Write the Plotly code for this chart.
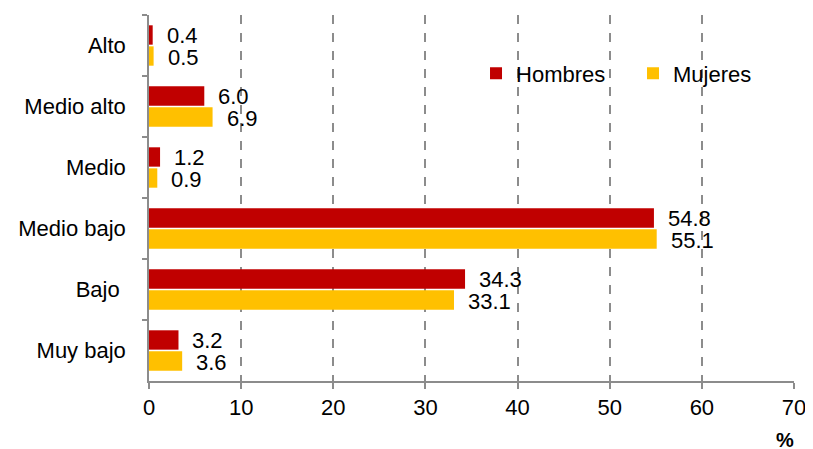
import plotly.graph_objects as go

# niveles socioeconomicos, de arriba hacia abajo
categorias = ['Alto', 'Medio alto', 'Medio', 'Medio bajo', 'Bajo ', 'Muy bajo']
hombres = [0.4, 6.0, 1.2, 54.8, 34.3, 3.2]
mujeres = [0.5, 6.9, 0.9, 55.1, 33.1, 3.6]
x_ticks = [0, 10, 20, 30, 40, 50, 60, 70]

ROJO = '#C00000'
AMARILLO = '#FFC000'
GRIS = '#8c8c8c'
FONT = 'Liberation Sans, Arial, sans-serif'

fig = go.Figure()
fig.add_trace(go.Bar(y=categorias, x=hombres, orientation='h', name='Hombres',
                     marker=dict(color=ROJO, line=dict(width=0))))
fig.add_trace(go.Bar(y=categorias, x=mujeres, orientation='h', name='Mujeres',
                     marker=dict(color=AMARILLO, line=dict(width=0))))

# etiquetas de valores a la derecha de cada barra
for cat, h, m in zip(categorias, hombres, mujeres):
    fig.add_annotation(x=h, y=cat, text=f'{h:.1f}', showarrow=False,
                       xanchor='left', xshift=12, yshift=10,
                       font=dict(size=22, color='black', family=FONT))
    fig.add_annotation(x=m, y=cat, text=f'{m:.1f}', showarrow=False,
                       xanchor='left', xshift=12, yshift=-12,
                       font=dict(size=22, color='black', family=FONT))

fig.add_annotation(x=0.986, y=-0.161, xref='paper', yref='paper', text='<b>%</b>',
                   showarrow=False, xanchor='center', yanchor='middle',
                   font=dict(size=20, color='black', family=FONT))

# la pagina tiene un margen de 8px arriba/izquierda de la figura
fig.update_layout(
    width=805, height=441,
    margin=dict(l=141, r=19, t=7, b=68),
    paper_bgcolor='white', plot_bgcolor='white',
    barmode='group', bargap=0.31, bargroupgap=0.08,
    font=dict(family=FONT, size=22, color='black'),
    showlegend=True,
    legend=dict(orientation='h', x=0.507, y=0.84, xanchor='left', yanchor='middle',
                font=dict(size=22, family=FONT), bgcolor='rgba(0,0,0,0)',
                itemwidth=30, entrywidth=112, entrywidthmode='pixels',
                traceorder='normal'),
)
fig.update_xaxes(range=[0, 70], tickvals=x_ticks, showgrid=True, automargin=False,
                 gridcolor=GRIS, griddash='dash', gridwidth=1.5,
                 showline=True, linecolor=GRIS, linewidth=1.5,
                 ticks='outside', ticklen=6, tickcolor=GRIS, tickwidth=1.5,
                 zeroline=False, tickfont=dict(size=22))
fig.update_yaxes(autorange='reversed', showline=True, linecolor=GRIS, linewidth=1.5,
                 ticks='outside', ticklen=5, tickcolor=GRIS, tickwidth=1.5, automargin=False,
                 tickson='boundaries', showgrid=False, ticklabelstandoff=17,
                 tickfont=dict(size=22))

fig.write_html('out.html')
